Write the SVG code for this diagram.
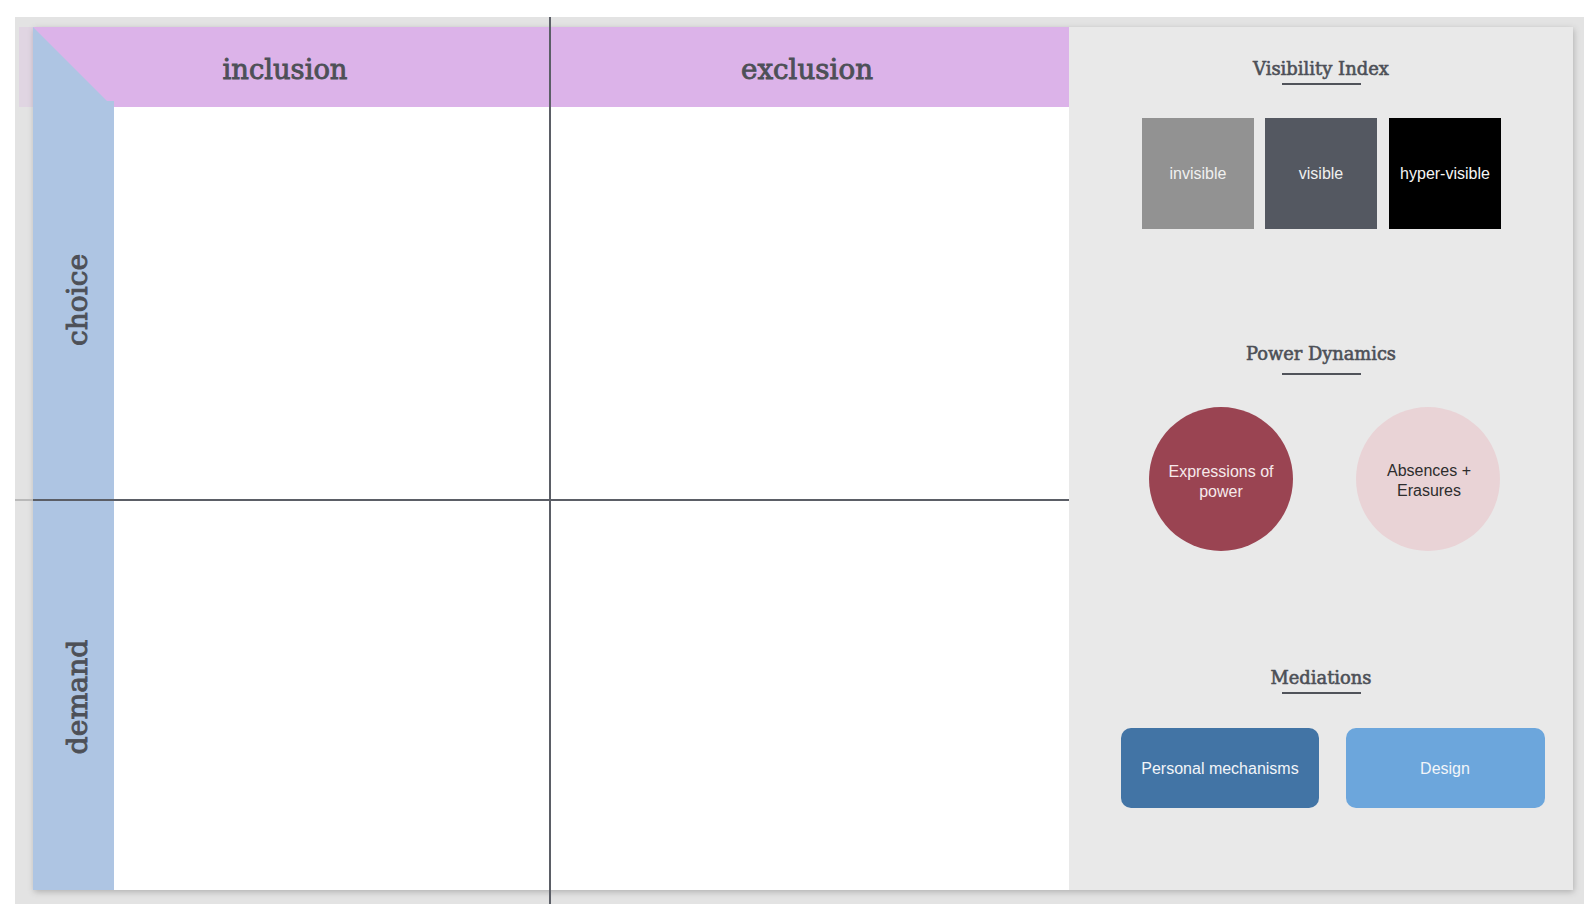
<svg xmlns="http://www.w3.org/2000/svg" width="1592" height="910" viewBox="0 0 1592 910">
<defs>
<filter id="shadow" x="-5%" y="-5%" width="110%" height="110%">
<feDropShadow dx="1" dy="2" stdDeviation="3" flood-color="#000" flood-opacity="0.22"/>
</filter>
<style>
.hdr{font-family:"DejaVu Serif","Liberation Serif",serif;font-size:28px;fill:#4d5057;stroke:#4d5057;stroke-width:0.9;text-anchor:middle}
.ttl{font-family:"DejaVu Serif","Liberation Serif",serif;font-size:18px;fill:#4d5057;stroke:#4d5057;stroke-width:0.6;text-anchor:middle}
.body{font-family:"Liberation Sans",Arial,sans-serif;font-size:16px;text-anchor:middle}
.ul{stroke:#50535a;stroke-width:2}
.grid{stroke:#5b5e66;stroke-width:2}
</style>
</defs>
<rect x="0" y="0" width="1592" height="910" fill="#ffffff"/>
<rect x="15" y="17" width="1569" height="887" fill="#e3e3e3"/>
<rect x="19" y="27" width="14" height="80" fill="#e0d5e2"/>
<g id="board">
<rect x="33" y="27" width="1540" height="863" fill="#ffffff" filter="url(#shadow)"/>
<rect x="33" y="27" width="1036" height="80" fill="#dcb3e9"/>
<polygon points="33,27 107,101 114,101 114,890 33,890" fill="#aec5e3"/>
<rect x="1069" y="27" width="504" height="863" fill="#e9e9e9"/>
</g>
<g id="grid">
<line class="grid" x1="550" y1="17" x2="550" y2="904"/>
<line x1="15" y1="500" x2="33" y2="500" stroke="#b9b9b9" stroke-width="2"/>
<line class="grid" x1="33" y1="500" x2="1069" y2="500"/>
</g>
<g id="header-inclusion"><text class="hdr" x="285" y="79" textLength="125" lengthAdjust="spacingAndGlyphs">inclusion</text></g>
<g id="header-exclusion"><text class="hdr" x="807" y="79" textLength="132" lengthAdjust="spacingAndGlyphs">exclusion</text></g>
<g id="label-choice"><text class="hdr" transform="translate(87,300) rotate(-90)" x="0" y="0" textLength="92" lengthAdjust="spacingAndGlyphs">choice</text></g>
<g id="label-demand"><text class="hdr" transform="translate(87,697) rotate(-90)" x="0" y="0" textLength="115" lengthAdjust="spacingAndGlyphs">demand</text></g>

<g id="visibility-index">
<text class="ttl" x="1321" y="75" textLength="136" lengthAdjust="spacingAndGlyphs">Visibility Index</text>
<line class="ul" x1="1282" y1="84" x2="1361" y2="84"/>
</g>
<g id="invisible">
<rect x="1142" y="118" width="112" height="111" fill="#929292"/>
<text class="body" x="1198" y="179" fill="#f0f0f0">invisible</text>
</g>
<g id="visible">
<rect x="1265" y="118" width="112" height="111" fill="#545861"/>
<text class="body" x="1321" y="179" fill="#f0f0f0">visible</text>
</g>
<g id="hyper-visible">
<rect x="1389" y="118" width="112" height="111" fill="#000000"/>
<text class="body" x="1445" y="179" fill="#f5f5f5">hyper-visible</text>
</g>

<g id="power-dynamics">
<text class="ttl" x="1321" y="360" textLength="150" lengthAdjust="spacingAndGlyphs">Power Dynamics</text>
<line class="ul" x1="1282" y1="374" x2="1361" y2="374"/>
</g>
<g id="expressions-of-power">
<circle cx="1221" cy="479" r="72" fill="#9a4452"/>
<text class="body" x="1221" y="477" fill="#f6e9eb">Expressions of</text>
<text class="body" x="1221" y="497" fill="#f6e9eb">power</text>
</g>
<g id="absences-erasures">
<circle cx="1428" cy="479" r="72" fill="#e9d3d6"/>
<text class="body" x="1429" y="476" fill="#2d2d2d">Absences +</text>
<text class="body" x="1429" y="496" fill="#2d2d2d">Erasures</text>
</g>

<g id="mediations">
<text class="ttl" x="1321" y="684" textLength="101" lengthAdjust="spacingAndGlyphs">Mediations</text>
<line class="ul" x1="1282" y1="693" x2="1361" y2="693"/>
</g>
<g id="personal-mechanisms">
<rect x="1121" y="728" width="198" height="80" rx="10" fill="#4274a5"/>
<text class="body" x="1220" y="774" fill="#f2f5f9">Personal mechanisms</text>
</g>
<g id="design">
<rect x="1346" y="728" width="199" height="80" rx="10" fill="#6ca6dc"/>
<text class="body" x="1445" y="774" fill="#f2f5f9">Design</text>
</g>
</svg>
